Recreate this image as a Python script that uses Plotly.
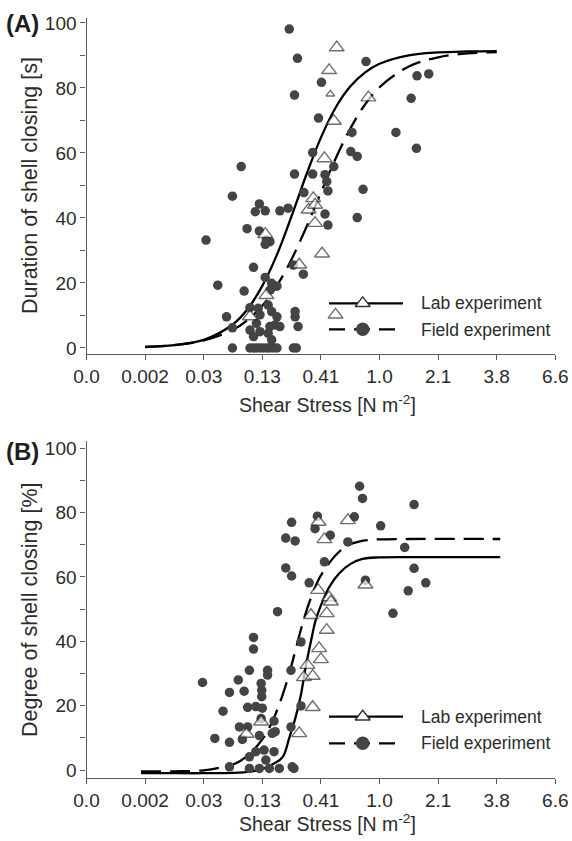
import plotly.graph_objects as go

W, H = 572, 841

# x positions are on the chart's fourth-root stress scale (tick k <-> stress (k/5)^4)
tick_vals = [0, 1, 2, 3, 4, 5, 6, 7, 8]
tick_text = ["0.0", "0.002", "0.03", "0.13", "0.41", "1.0", "2.1", "3.8", "6.6"]

# ---------- Panel A: duration of shell closing [s] ----------
a_field_x = [3.46, 3.60, 3.55, 4.01, 3.96, 3.86, 2.64, 3.55, 3.86, 4.07, 4.22, 4.77, 5.64, 5.84,
             5.54, 5.28, 5.63, 4.53, 4.51, 4.62, 4.10, 4.12, 3.71, 4.72, 4.07, 4.12, 4.62, 3.44,
             2.49, 2.95, 2.88, 3.05, 3.30, 2.74, 2.95, 3.07, 3.13, 3.05, 2.04, 2.85, 3.53, 3.70,
             2.24, 2.69, 3.05, 3.16, 3.13, 3.25, 2.39, 2.49, 2.79, 2.93, 2.96, 2.90, 3.10, 3.16,
             3.25, 3.22, 3.13, 3.30, 2.96, 3.10, 3.16, 2.79, 2.85, 3.56, 3.56, 3.61,
             2.49, 2.79, 2.85, 2.90, 2.96, 3.02, 3.08, 3.13, 3.19, 3.25, 3.53, 3.58]
a_field_y = [98.1, 89.1, 77.8, 81.7, 70.7, 60.1, 55.8, 53.5, 53.5, 53.3, 55.8, 88.1, 83.7, 84.3,
             76.8, 66.3, 61.4, 66.3, 60.4, 58.9, 51.2, 48.3, 47.8, 48.8, 41.2, 37.8, 40.1, 43.0,
             46.7, 44.3, 41.9, 42.2, 42.2, 36.7, 36.0, 33.2, 32.7, 31.9, 33.2, 24.8, 25.5, 22.7,
             19.3, 17.5, 21.7, 19.9, 17.8, 19.0, 9.6, 6.2, 12.4, 12.2, 10.2, 7.6, 13.2, 11.2,
             9.6, 7.1, 6.6, 6.6, 5.0, 4.5, 2.5, 5.5, 3.5, 11.2, 9.6, 6.6,
             0, 0, 0, 0, 0, 0, 0, 0, 0, 0, 0, 0]

a_lab_x = [2.79, 3.07, 3.05, 3.63, 3.79, 3.87, 3.90, 3.90, 4.02, 4.06, 4.22, 4.16, 4.14, 4.27, 4.81, 4.25]
a_lab_y = [9.7, 16.2, 35.0, 25.6, 42.5, 46.0, 44.0, 38.4, 29.0, 58.3, 69.8, 78.1, 85.4, 92.4, 77.0, 10.2]
a_lab_small = [False] * 11 + [True] + [False] * 4

a_curve_x = [1.0, 1.5, 2.0, 2.5, 2.75, 3.0, 3.25, 3.5, 3.75, 4.0, 4.25, 4.5, 4.75, 5.0, 5.5, 6.0, 6.5, 7.0]
a_lab_curve_y = [0.3, 0.9, 2.5, 7.3, 12.0, 19.1, 28.7, 40.6, 53.2, 64.7, 73.9, 80.4, 84.7, 87.4,
                 90.0, 90.9, 91.2, 91.3]
a_field_curve_y = [0.35, 0.9, 2.3, 5.6, 8.6, 13.0, 19.2, 27.3, 37.1, 47.8, 58.2, 67.4, 74.8, 80.2,
                   86.6, 89.4, 90.6, 91.0]

# ---------- Panel B: degree of shell closing [%] ----------
b_field_x = [4.66, 4.71, 4.57, 3.94, 3.90, 3.50, 3.40, 3.56, 4.16, 4.46, 5.59, 5.02, 5.43, 5.59,
             5.79, 5.49, 5.23, 4.76, 4.06, 3.40, 3.50, 3.80, 3.26, 2.85, 2.85, 1.98, 2.59, 2.44,
             2.69, 2.78, 3.09, 3.09, 2.98, 2.99, 2.99, 2.33, 2.75, 2.89, 3.00, 2.61, 2.75, 2.98,
             3.20, 3.22, 2.19, 2.44, 2.66, 2.95, 3.17, 2.89, 3.03, 3.20, 2.78, 3.06, 2.44, 2.78,
             2.95, 3.12, 3.29, 3.51, 3.54, 3.66, 3.49, 3.66, 3.49]
b_field_y = [88.2, 84.4, 78.7, 78.9, 75.0, 77.0, 72.1, 71.2, 73.0, 70.9, 82.5, 75.9, 69.2, 62.7,
             58.2, 55.7, 48.7, 59.0, 64.7, 62.8, 60.3, 58.2, 49.2, 41.2, 37.6, 27.2, 28.0, 24.1,
             24.5, 31.0, 31.0, 29.5, 26.9, 24.8, 22.8, 18.3, 19.5, 19.7, 19.2, 13.4, 13.4, 16.0,
             15.2, 11.9, 9.8, 8.6, 9.5, 10.7, 11.4, 5.7, 6.2, 5.7, 4.1, 3.1, 1.0, 0.5,
             0.5, 0.5, 0.5, 1.0, 0.5, 39.8, 31.0, 19.9, 13.4]

b_lab_x = [3.95, 4.14, 4.17, 4.10, 3.83, 4.10, 3.97, 4.00, 3.77, 3.71, 3.86, 3.86, 3.63, 2.98,
           2.73, 3.96, 4.46, 4.06, 4.76]
b_lab_y = [55.9, 53.6, 52.3, 48.7, 48.1, 43.5, 37.8, 34.4, 32.6, 28.8, 29.2, 19.5, 11.4, 15.0,
           11.2, 77.1, 77.6, 71.7, 57.6]

b_lab_curve_x = [0.93, 1.5, 2.0, 2.5, 2.8, 3.0, 3.2, 3.35, 3.46, 3.57, 3.66, 3.74, 3.83, 3.91,
                 4.03, 4.14, 4.31, 4.5, 4.71, 5.0, 5.5, 7.06]
b_lab_curve_y = [-1.0, -1.0, -1.0, -0.9, -0.5, 0.3, 2.0, 4.1, 10.0, 16.5, 23.5, 32.0, 40.0, 46.5,
                 52.5, 56.8, 61.1, 64.0, 65.6, 66.1, 66.2, 66.2]
b_field_curve_x = [0.93, 1.5, 2.0, 2.3, 2.55, 2.78, 3.0, 3.17, 3.34, 3.46, 3.57, 3.68, 3.80, 3.97,
                   4.17, 4.31, 4.48, 4.65, 4.9, 5.5, 7.06]
b_field_curve_y = [-0.4, -0.4, -0.1, 0.8, 2.1, 5.0, 9.5, 15.0, 23.0, 30.0, 37.5, 45.0, 52.0, 59.5,
                   65.0, 67.8, 70.0, 71.0, 71.6, 71.8, 71.8]

legend_names = ["Lab experiment", "Field experiment"]

# ---------- styling ----------
FONT = "Liberation Sans, Arial, sans-serif"
TXT = "#2b2b2b"
AXC = "#5a5a5a"
DOT = "#444444"
LINE_W = 2.3
DASH = "20px,9px"


def fx(px):
    return px / W


def fy(py):
    return 1 - py / H


fig = go.Figure()


def add_panel(xa, ya, fxs, fys, lxs, lys, lsizes, c1x, c1y, c2x, c2y):
    fig.add_trace(go.Scatter(x=c1x, y=c1y, mode="lines", line=dict(color="black", width=LINE_W, shape="spline"),
                             xaxis=xa, yaxis=ya, showlegend=False, hoverinfo="skip"))
    fig.add_trace(go.Scatter(x=c2x, y=c2y, mode="lines",
                             line=dict(color="black", width=LINE_W, dash=DASH, shape="spline"),
                             xaxis=xa, yaxis=ya, showlegend=False, hoverinfo="skip"))
    fig.add_trace(go.Scatter(x=fxs, y=fys, mode="markers", marker=dict(color=DOT, size=9.5, line=dict(width=0)),
                             xaxis=xa, yaxis=ya, showlegend=False))
    fig.add_trace(go.Scatter(x=lxs, y=lys, mode="markers",
                             marker=dict(symbol="triangle-up", color="white", size=lsizes,
                                         line=dict(color="#333333", width=1.4)),
                             xaxis=xa, yaxis=ya, showlegend=False))


add_panel("x", "y", a_field_x, a_field_y, a_lab_x, a_lab_y,
          [7.5 if s else 13 for s in a_lab_small], a_curve_x, a_lab_curve_y, a_curve_x, a_field_curve_y)
add_panel("x2", "y2", b_field_x, b_field_y, b_lab_x, b_lab_y,
          [13] * len(b_lab_x), b_lab_curve_x, b_lab_curve_y, b_field_curve_x, b_field_curve_y)

# legend samples drawn on a full-page pixel overlay axis
for ly in (303.3, 716.7):
    fig.add_trace(go.Scatter(x=[329, 403], y=[ly, ly], mode="lines", line=dict(color="black", width=LINE_W),
                             xaxis="x3", yaxis="y3", showlegend=False, hoverinfo="skip"))
    fig.add_trace(go.Scatter(x=[362.7], y=[ly], mode="markers",
                             marker=dict(symbol="triangle-up", color="white", size=13,
                                         line=dict(color="#333333", width=1.4)),
                             xaxis="x3", yaxis="y3", showlegend=False, hoverinfo="skip"))
for ly in (329.3, 743.3):
    fig.add_trace(go.Scatter(x=[329, 403], y=[ly, ly], mode="lines",
                             line=dict(color="black", width=LINE_W, dash="16px,9px"),
                             xaxis="x3", yaxis="y3", showlegend=False, hoverinfo="skip"))
    fig.add_trace(go.Scatter(x=[362.7], y=[ly], mode="markers", marker=dict(color=DOT, size=13.5),
                             xaxis="x3", yaxis="y3", showlegend=False, hoverinfo="skip"))

xcommon = dict(range=[0, 8], tickmode="array", tickvals=tick_vals, ticktext=tick_text,
               ticks="outside", ticklen=5, tickcolor=AXC, showline=True, linecolor=AXC, linewidth=1.3,
               showgrid=False, zeroline=False, tickfont=dict(size=19, color=TXT, family=FONT),
               domain=[fx(86.5), fx(555.3)], fixedrange=True, automargin=False)
ycommon = dict(tickmode="array", tickvals=[0, 20, 40, 60, 80, 100], ticks="outside", ticklen=5,
               tickcolor=AXC, showline=True, linecolor=AXC, linewidth=1.3, showgrid=False, zeroline=False,
               tickfont=dict(size=19, color=TXT, family=FONT), fixedrange=True, automargin=False,
               minor=dict(tickvals=[10, 30, 50, 70, 90], ticks="outside", ticklen=5, tickcolor=AXC))

fig.update_layout(
    template="none",
    width=W, height=H, margin=dict(l=0, r=0, t=0, b=0, pad=0, autoexpand=False),
    paper_bgcolor="white", plot_bgcolor="rgba(0,0,0,0)",
    font=dict(family=FONT, color=TXT),
    xaxis=dict(**xcommon, anchor="y"),
    yaxis=dict(**ycommon, anchor="x", range=[-1.85, 101.4], domain=[fy(354), fy(18.3)]),
    xaxis2=dict(**xcommon, anchor="y2"),
    yaxis2=dict(**ycommon, anchor="x2", range=[-2.58, 102.36], domain=[fy(778.3), fy(440.7)]),
    xaxis3=dict(range=[0, W], domain=[0, 1], visible=False, fixedrange=True, anchor="y3", automargin=False),
    yaxis3=dict(range=[H, 0], domain=[0, 1], visible=False, fixedrange=True, anchor="x3", automargin=False),
    showlegend=False,
)

ann = []
for lbl, y in (("(A)", 24), ("(B)", 451)):
    ann.append(dict(text="<b>" + lbl + "</b>", x=fx(4), y=fy(y), xanchor="left", yanchor="middle",
                    font=dict(size=24, color="#1e1e1e", family=FONT)))
for lbl, y in (("Duration of shell closing [s]", 186), ("Degree of shell closing [%]", 610)):
    ann.append(dict(text=lbl, x=fx(30), y=fy(y), textangle=-90, xanchor="center", yanchor="middle",
                    font=dict(size=21.5, color=TXT, family=FONT)))
for y in (404, 823):
    ann.append(dict(text="Shear Stress [N m<sup>-2</sup>]", x=fx(327), y=fy(y), xanchor="center",
                    yanchor="middle", font=dict(size=19.5, color=TXT, family=FONT)))
for y0 in (303.3, 716.7):
    ann.append(dict(text=legend_names[0], x=fx(419), y=fy(y0), xanchor="left", yanchor="middle",
                    font=dict(size=17.5, color=TXT, family=FONT)))
    ann.append(dict(text=legend_names[1], x=fx(419), y=fy(y0 + 26.3), xanchor="left", yanchor="middle",
                    font=dict(size=17.5, color=TXT, family=FONT)))
for a in ann:
    a.update(xref="paper", yref="paper", showarrow=False)
fig.update_layout(annotations=ann)

fig.write_html("out.html", post_script="document.body.style.margin='0px';document.body.style.overflow='hidden';")
